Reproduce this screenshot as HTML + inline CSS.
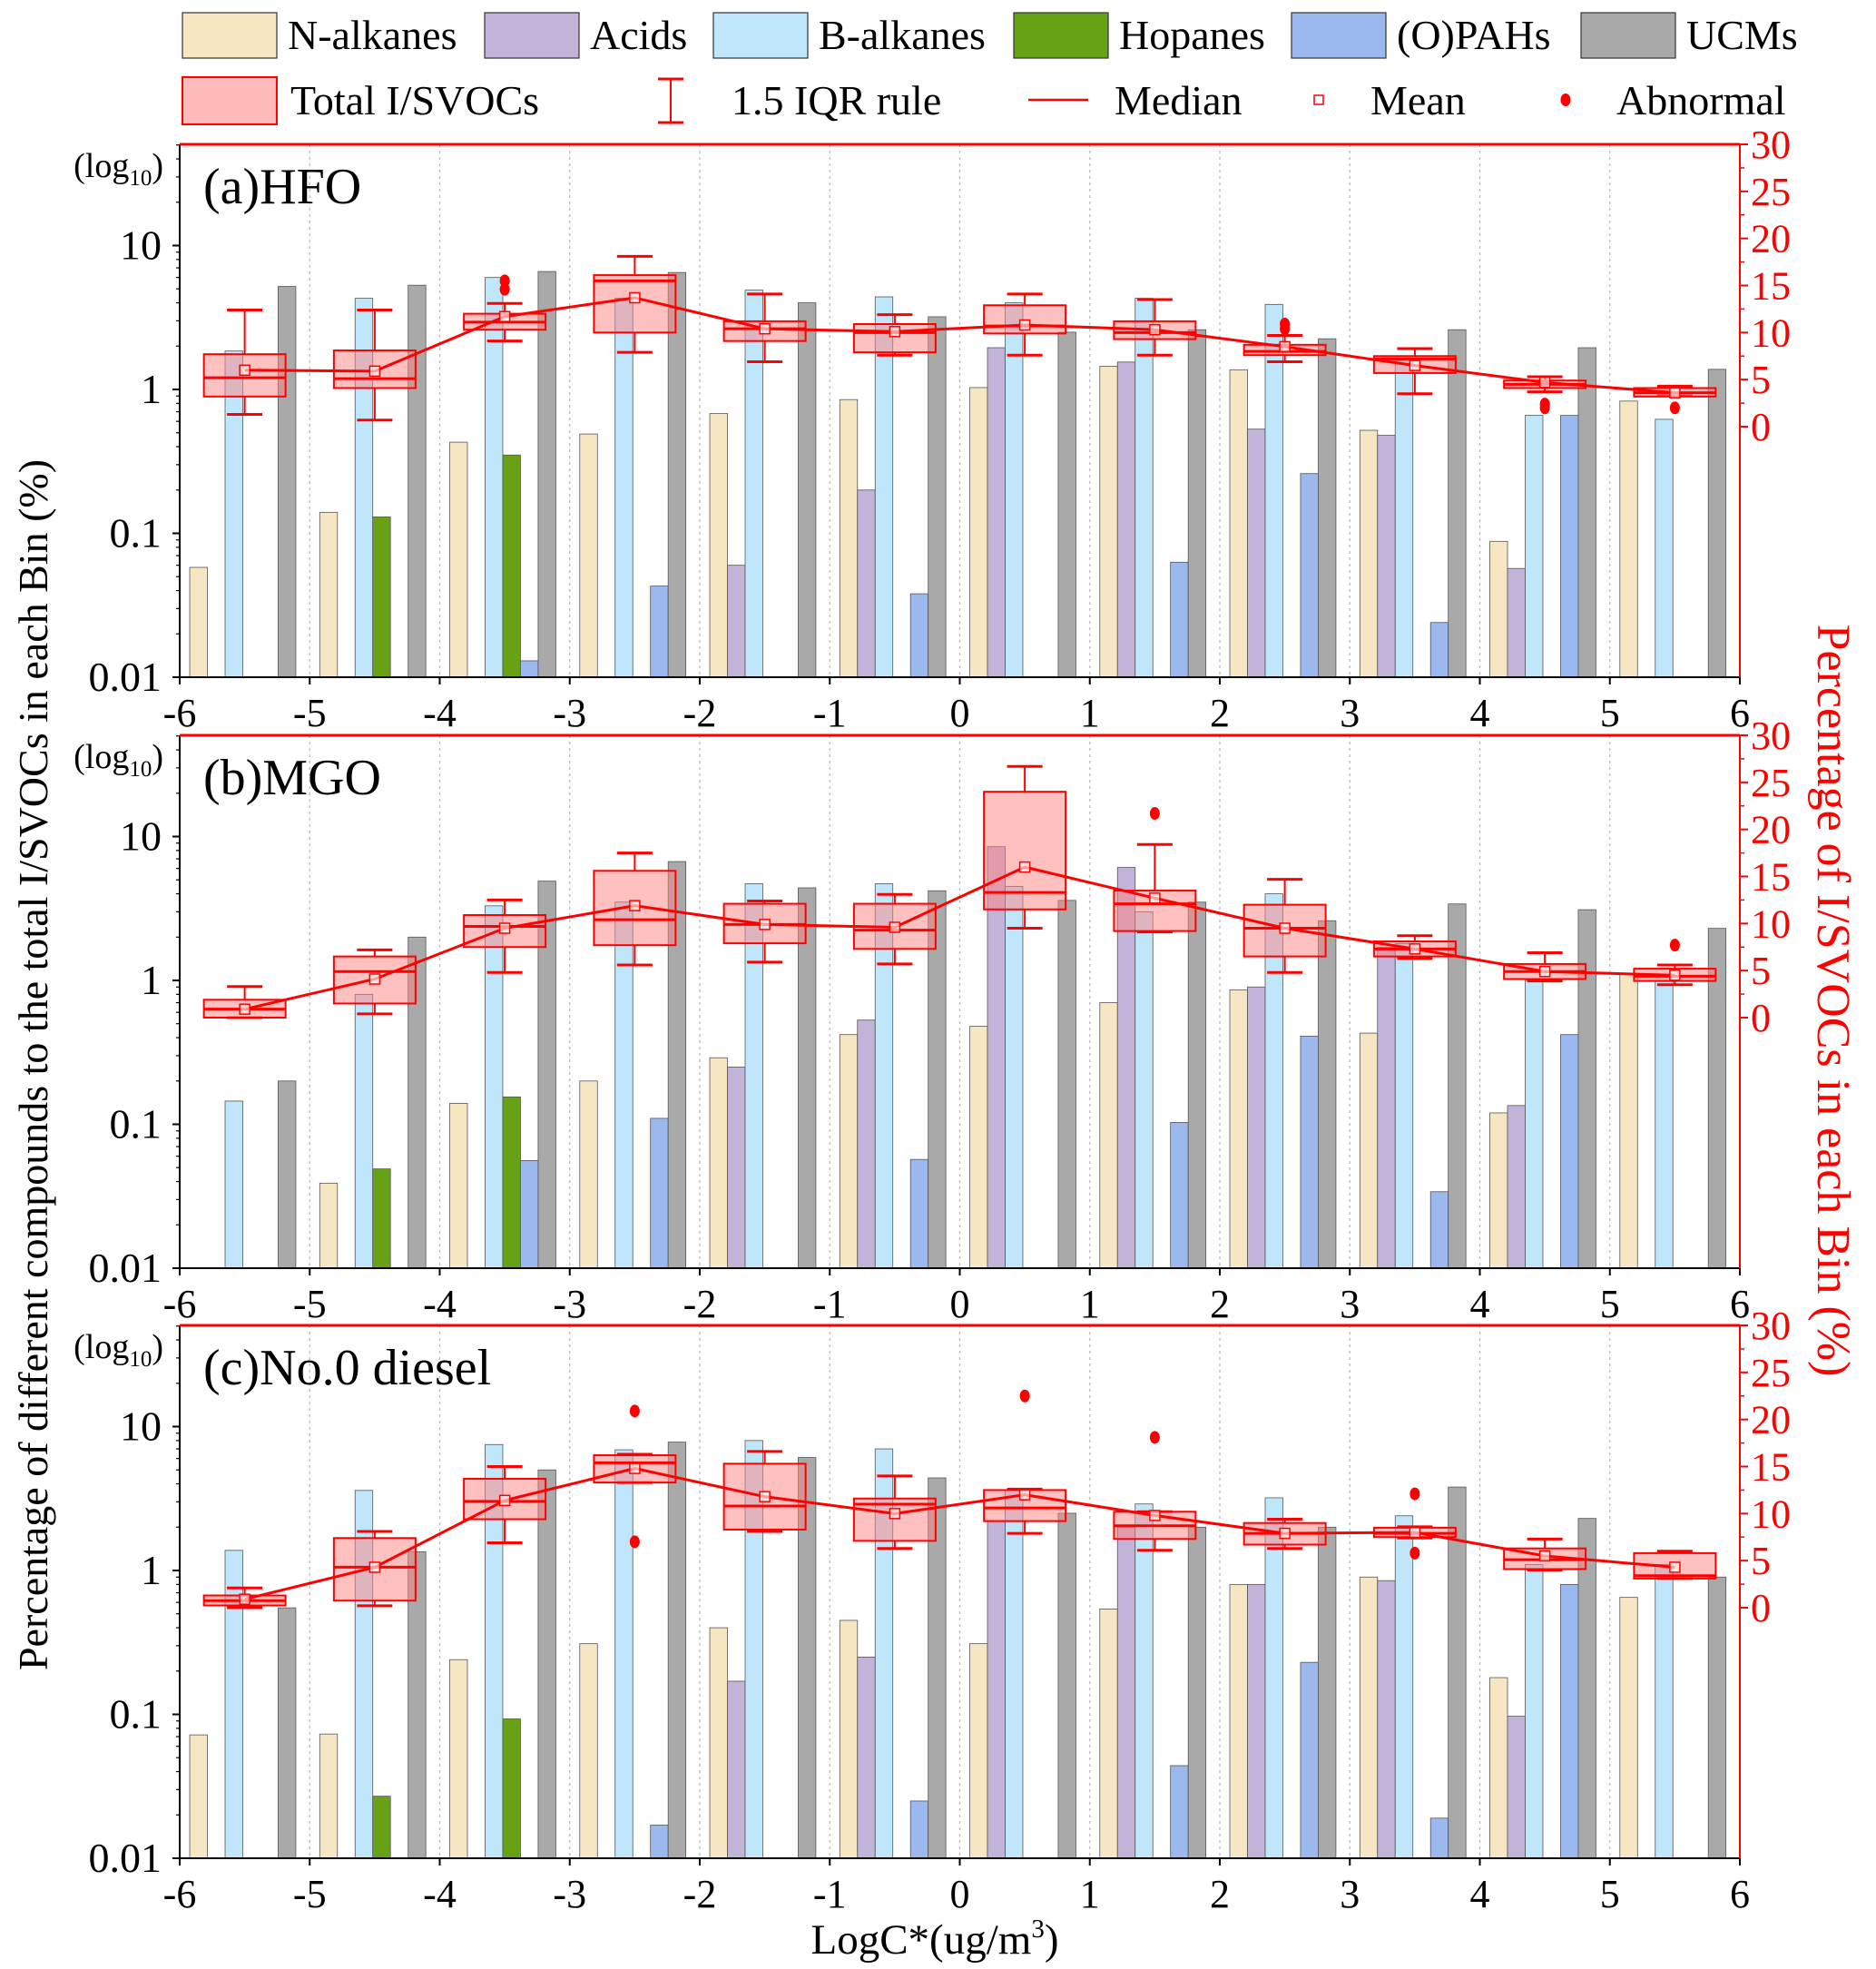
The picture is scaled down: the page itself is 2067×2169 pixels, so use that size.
<!DOCTYPE html>
<html><head><meta charset="utf-8">
<style>
html,body{margin:0;padding:0;background:#fff;}
svg{display:block;font-family:"Liberation Serif",serif;}
</style></head>
<body>
<svg id="chart" width="2067" height="2169" viewBox="0 0 2067 2169" xmlns="http://www.w3.org/2000/svg">
<g id="legend"></g>
<text x="0" y="0" transform="translate(52,1173) rotate(-90)" text-anchor="middle" font-size="46" fill="#000">Percentage of different compounds to the total I/SVOCs in each Bin (%)</text>
<text x="0" y="0" transform="translate(2003,1102) rotate(90)" text-anchor="middle" font-size="52" fill="#ff0000">Percentage of I/SVOCs in each Bin (%)</text>
<text x="1030" y="2152" text-anchor="middle" font-size="47" fill="#000">LogC*(ug/m<tspan dy="-18" font-size="29">3</tspan><tspan dy="18">)</tspan></text>
</svg>
<script>
const categories = [-5.5,-4.5,-3.5,-2.5,-1.5,-0.5,0.5,1.5,2.5,3.5,4.5,5.5];
const seriesNames = ["N-alkanes","Acids","B-alkanes","Hopanes","(O)PAHs","UCMs"];
const panelTitles = ["(a)HFO","(b)MGO","(c)No.0 diesel"];
const xTicks = [-6,-5,-4,-3,-2,-1,0,1,2,3,4,5,6];
const yTicksLeft = [10,1,0.1,0.01];
const yTickLabelsLeft = ["10","1","0.1","0.01"];
const yTicksRight = [0,5,10,15,20,25,30];

// HFO
const hfoNalkanes = [0.058,0.14,0.43,0.49,0.68,0.85,1.03,1.45,1.37,0.52,0.088,0.83];
const hfoAcids    = [0,0,0,0,0.06,0.2,1.95,1.55,0.53,0.48,0.057,0];
const hfoBalkanes = [1.85,4.3,6.0,4.3,4.9,4.4,4.0,4.3,3.9,1.6,0.66,0.62];
const hfoHopanes  = [0,0.13,0.35,0,0,0,0,0,0,0,0,0];
const hfoPAHs     = [0,0,0.013,0.043,0,0.038,0,0.063,0.26,0.024,0.66,0];
const hfoUCMs     = [5.2,5.3,6.6,6.5,4.0,3.2,2.5,2.6,2.25,2.6,1.95,1.38];
const hfoQ1     = [3.2,4.1,10.3,10.0,9.1,7.9,9.9,9.3,7.6,5.7,4.1,3.2];
const hfoQ3     = [7.7,8.1,12.0,16.1,11.2,10.9,12.9,11.2,8.7,7.5,4.9,4.1];
const hfoMedian = [5.2,5.1,11.1,15.5,10.4,10.0,10.7,10.0,8.0,7.2,4.5,3.6];
const hfoMean   = [6.0,5.9,11.7,13.7,10.4,10.1,10.8,10.3,8.5,6.5,4.7,3.6];
const hfoWhiskHi= [12.4,12.4,13.1,18.1,14.1,11.9,14.1,13.5,9.7,8.3,5.3,4.3];
const hfoWhiskLo= [1.3,0.7,9.1,7.9,6.9,7.6,7.6,7.6,6.9,3.5,3.7,3.3];
const hfoOutX   = [-3.5,-3.5,2.5,2.5,4.5,4.5,5.5];
const hfoOutY   = [15.5,14.6,10.9,10.4,2.4,2.0,2.0];

// MGO
const mgoNalkanes = [0,0.039,0.14,0.2,0.29,0.42,0.48,0.7,0.86,0.43,0.12,1.1];
const mgoAcids    = [0,0,0,0,0.25,0.53,8.5,6.1,0.9,1.7,0.135,0];
const mgoBalkanes = [0.145,0.8,3.3,3.5,4.7,4.7,4.5,3.0,4.0,1.8,1.0,1.0];
const mgoHopanes  = [0,0.049,0.155,0,0,0,0,0,0,0,0,0];
const mgoPAHs     = [0,0,0.056,0.11,0,0.057,0,0.103,0.41,0.034,0.42,0];
const mgoUCMs     = [0.2,2.0,4.9,6.7,4.4,4.2,3.6,3.5,2.6,3.4,3.1,2.3];
const mgoQ1     = [0,1.5,7.5,7.7,7.9,7.3,11.5,9.2,6.5,6.5,4.1,3.9];
const mgoQ3     = [1.9,6.5,10.9,15.6,12.1,12.1,24.0,13.5,12.0,8.1,5.7,5.2];
const mgoMedian = [0.9,4.9,9.7,10.4,9.9,9.3,13.3,12.1,9.5,7.3,4.9,4.4];
const mgoMean   = [0.9,4.1,9.5,11.9,9.9,9.6,16.0,12.7,9.5,7.3,4.9,4.5];
const mgoWhiskHi= [3.3,7.2,12.5,17.5,12.4,13.1,26.7,18.4,14.7,8.7,6.9,5.6];
const mgoWhiskLo= [0,0.4,4.8,5.6,5.9,5.7,9.5,9.1,4.8,6.3,3.9,3.5];
const mgoOutX   = [1.5,5.5];
const mgoOutY   = [21.7,7.7];

// No.0 diesel
const dslNalkanes = [0.072,0.073,0.24,0.31,0.4,0.45,0.31,0.54,0.8,0.9,0.18,0.65];
const dslAcids    = [0,0,0,0,0.17,0.25,2.2,2.0,0.8,0.85,0.097,0];
const dslBalkanes = [1.38,3.6,7.5,6.9,8.0,7.0,3.6,2.9,3.2,2.4,1.1,1.1];
const dslHopanes  = [0,0.027,0.093,0,0,0,0,0,0,0,0,0];
const dslPAHs     = [0,0,0,0.017,0,0.025,0,0.044,0.23,0.019,0.8,0];
const dslUCMs     = [0.55,1.35,5.0,7.8,6.1,4.4,2.5,2.0,2.0,3.8,2.3,0.9];
const dslQ1     = [0.24,0.75,9.4,13.3,8.3,7.1,9.2,7.3,6.7,7.5,4.1,3.1];
const dslQ3     = [1.3,7.4,13.7,16.2,15.3,11.6,12.5,10.2,9.0,8.5,6.3,5.8];
const dslMedian = [0.75,4.3,11.3,15.4,10.8,11.0,10.6,8.7,7.9,7.9,5.1,3.4];
const dslMean   = [0.9,4.3,11.4,14.8,11.8,10.0,12.0,9.8,7.9,8.0,5.5,4.3];
const dslWhiskHi= [2.1,8.1,15.0,16.3,16.6,14.0,12.6,10.2,9.4,8.6,7.3,6.0];
const dslWhiskLo= [0,0.2,6.9,13.3,8.1,6.3,7.9,6.1,6.3,7.4,4.0,3.1];
const dslOutX   = [-2.5,-2.5,0.5,1.5,3.5,3.5];
const dslOutY   = [20.9,7.0,22.5,18.1,12.1,5.8];

const panelsData = [
 {bars:[hfoNalkanes,hfoAcids,hfoBalkanes,hfoHopanes,hfoPAHs,hfoUCMs],q1:hfoQ1,q3:hfoQ3,med:hfoMedian,mean:hfoMean,hi:hfoWhiskHi,lo:hfoWhiskLo,ox:hfoOutX,oy:hfoOutY,top:159},
 {bars:[mgoNalkanes,mgoAcids,mgoBalkanes,mgoHopanes,mgoPAHs,mgoUCMs],q1:mgoQ1,q3:mgoQ3,med:mgoMedian,mean:mgoMean,hi:mgoWhiskHi,lo:mgoWhiskLo,ox:mgoOutX,oy:mgoOutY,top:810},
 {bars:[dslNalkanes,dslAcids,dslBalkanes,dslHopanes,dslPAHs,dslUCMs],q1:dslQ1,q3:dslQ3,med:dslMedian,mean:dslMean,hi:dslWhiskHi,lo:dslWhiskLo,ox:dslOutX,oy:dslOutY,top:1460}
];

const colors = ["#f7e6c3","#c2b4d9","#bfe6fb","#66a116","#9bb9ef","#a9a9a9"];
const NS = "http://www.w3.org/2000/svg";
const svg = document.getElementById('chart');
const X0 = 198, X1 = 1917, PH = 587, DEC = 158.5, RH = 311;
const xs = v => X0 + (v + 6) * (X1 - X0) / 12;

function mk(tag, attrs, parent){
  const e = document.createElementNS(NS, tag);
  for (const k in attrs) e.setAttribute(k, attrs[k]);
  (parent || svg).appendChild(e);
  return e;
}

panelsData.forEach((P, pi) => {
  const T = P.top, B = T + PH;
  const ysL = v => B - (Math.log10(v) + 2) * DEC;
  const ysR = v => T + RH - v * RH / 30;
  const g = mk('g', {});
  
  

  xTicks.slice(1, -1).forEach(t => {
    const l = mk('line', {x1:xs(t), x2:xs(t), y1:T, y2:B, stroke:'#bbb', 'stroke-width':1.3, 'stroke-dasharray':'3,4'}, g);
    
    
  });

  const bw = (X1 - X0) / 12;
  const sw = bw * 0.136;
  P.bars.forEach((arr, si) => {
    arr.forEach((v, ci) => {
      if (!v || v <= 0.01) return;
      const x = xs(categories[ci]) - bw/2 + bw*0.077 + si * sw;
      const r = mk('rect', {x:x, y:ysL(v), width:sw, height:B - ysL(v), fill:colors[si], stroke:'#555', 'stroke-width':0.8}, g);
      
      
    });
  });

  const bwid = 90, cap = 39;
  categories.forEach((c, i) => {
    const cx = xs(c);
    const bg = mk('g', {}, g);
    
    
    mk('line', {x1:cx, x2:cx, y1:ysR(P.hi[i]), y2:ysR(P.q3[i]), stroke:'#f00', 'stroke-width':2}, bg);
    mk('line', {x1:cx, x2:cx, y1:ysR(P.q1[i]), y2:ysR(P.lo[i]), stroke:'#f00', 'stroke-width':2}, bg);
    mk('line', {x1:cx-cap/2, x2:cx+cap/2, y1:ysR(P.hi[i]), y2:ysR(P.hi[i]), stroke:'#f00', 'stroke-width':3}, bg);
    mk('line', {x1:cx-cap/2, x2:cx+cap/2, y1:ysR(P.lo[i]), y2:ysR(P.lo[i]), stroke:'#f00', 'stroke-width':3}, bg);
    mk('rect', {x:cx-bwid/2, y:ysR(P.q3[i]), width:bwid, height:Math.max(ysR(P.q1[i]) - ysR(P.q3[i]),1), fill:'rgba(255,130,130,0.5)', stroke:'#f00', 'stroke-width':2}, bg);
    mk('line', {x1:cx-bwid/2, x2:cx+bwid/2, y1:ysR(P.med[i]), y2:ysR(P.med[i]), stroke:'#f00', 'stroke-width':3}, bg);
  });

  const pts = categories.map((c, i) => xs(c) + ',' + ysR(P.mean[i])).join(' ');
  const pl = mk('polyline', {points:pts, fill:'none', stroke:'#f00', 'stroke-width':3}, g);
  
  
  categories.forEach((c, i) => {
    const m = mk('rect', {x:xs(c)-5.5, y:ysR(P.mean[i])-5.5, width:11, height:11, fill:'#fff', 'fill-opacity':0.6, stroke:'#f00', 'stroke-width':1.5}, g);
    
    
  });
  P.ox.forEach((x, i) => {
    const o = mk('ellipse', {cx:xs(x), cy:ysR(P.oy[i]), rx:5.5, ry:7, fill:'#f00'}, g);
    
    
  });

  const la = mk('line', {x1:X0, x2:X0, y1:T, y2:B, stroke:'#000', 'stroke-width':2}, g);
  
  
  const ba = mk('line', {x1:X0, x2:X1, y1:B, y2:B, stroke:'#000', 'stroke-width':2}, g);
  
  
  const ra = mk('line', {x1:X1, x2:X1, y1:T, y2:B, stroke:'#f00', 'stroke-width':2}, g);
  
  
  const ta = mk('line', {x1:X0, x2:X1, y1:T, y2:T, stroke:'#f00', 'stroke-width':3}, g);
  
  

  yTicksLeft.forEach((v, i) => {
    const y = ysL(v);
    mk('line', {x1:X0-8, x2:X0, y1:y, y2:y, stroke:'#000', 'stroke-width':2}, g);
    const t = mk('text', {x:X0-20, y:y+15, 'text-anchor':'end', 'font-size':46}, g);
    t.textContent = yTickLabelsLeft[i];
    
    
    if (v < 10) for (let k = 2; k <= 9; k++) {
      const yy = ysL(v * k);
      mk('line', {x1:X0-4, x2:X0, y1:yy, y2:yy, stroke:'#000', 'stroke-width':1.2}, g);
    }
  });
  for (let k = 2; k <= 5; k++) { const yy = ysL(10*k); if (yy > T) mk('line', {x1:X0-4, x2:X0, y1:yy, y2:yy, stroke:'#000', 'stroke-width':1.2}, g); }
  const lg = mk('text', {x:X0-18, y:T+36, 'text-anchor':'end', 'font-size':38}, g);
  lg.innerHTML = '(log<tspan font-size="25" dy="9">10</tspan><tspan dy="-9">)</tspan>';
  
  

  yTicksRight.forEach(v => {
    const y = ysR(v);
    mk('line', {x1:X1, x2:X1+9, y1:y, y2:y, stroke:'#f00', 'stroke-width':2}, g);
    if (v < 30) mk('line', {x1:X1, x2:X1+5, y1:ysR(v+2.5), y2:ysR(v+2.5), stroke:'#f00', 'stroke-width':1.5}, g);
    const t = mk('text', {x:X1+12, y:y+15, 'font-size':44, fill:'#f00'}, g);
    t.textContent = v;
    
    
  });

  xTicks.forEach(v => {
    mk('line', {x1:xs(v), x2:xs(v), y1:B, y2:B+8, stroke:'#000', 'stroke-width':2}, g);
    const t = mk('text', {x:xs(v), y:B+54, 'text-anchor':'middle', 'font-size':44}, g);
    t.textContent = v;
    
    
  });

  const tt = mk('text', {x:X0+26, y:T+65, 'font-size':56}, g);
  tt.textContent = panelTitles[pi];
  
  
});

const L = document.getElementById('legend');
const row1X = [201,534,786,1117,1423,1742];
seriesNames.forEach((n, i) => {
  const r = mk('rect', {x:row1X[i], y:14, width:104, height:50, fill:colors[i], stroke:'#333', 'stroke-width':1.2}, L);
  
  
  const t = mk('text', {x:row1X[i]+116, y:54, 'font-size':46}, L);
  t.textContent = n;
  
  
});
const r2 = mk('rect', {x:201, y:85, width:104, height:52, fill:'rgba(255,130,130,0.55)', stroke:'#f00', 'stroke-width':2}, L);


mk('line', {x1:739, x2:739, y1:87, y2:135, stroke:'#f00', 'stroke-width':2}, L);
mk('line', {x1:725, x2:753, y1:87, y2:87, stroke:'#f00', 'stroke-width':3}, L);
mk('line', {x1:725, x2:753, y1:135, y2:135, stroke:'#f00', 'stroke-width':3}, L);
mk('line', {x1:1133, x2:1199, y1:110, y2:110, stroke:'#f00', 'stroke-width':2.5}, L);
mk('rect', {x:1448, y:105, width:10, height:10, fill:'none', stroke:'#f00', 'stroke-width':1.5}, L);
mk('ellipse', {cx:1725, cy:110, rx:5.5, ry:7, fill:'#f00'}, L);
const row2 = [["Total I/SVOCs",320],["1.5 IQR rule",806],["Median",1228],["Mean",1510],["Abnormal",1781]];
row2.forEach(([n, x]) => {
  const t = mk('text', {x:x, y:126, 'font-size':46}, L);
  t.textContent = n;
  
  
});
</script>
</body></html>
